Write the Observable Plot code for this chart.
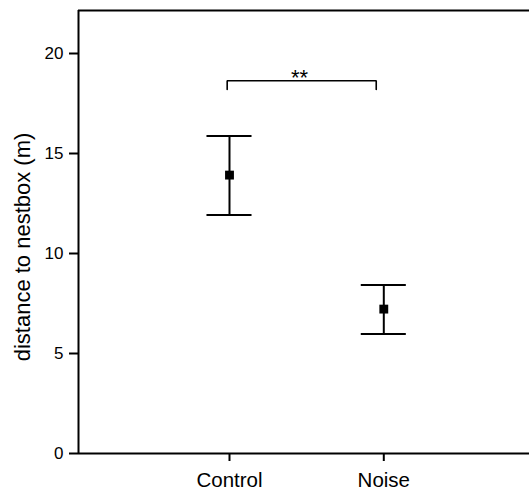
<!DOCTYPE html>
<html>
<head>
<meta charset="utf-8">
<script src="https://cdn.jsdelivr.net/npm/d3@7"></script>
<script src="https://cdn.jsdelivr.net/npm/@observablehq/plot@0.6"></script>
<style>
  html, body { margin: 0; padding: 0; background: #fff; overflow: hidden; width: 530px; height: 491px; }
  #chart svg { display: block; }
</style>
</head>
<body>
<div id="chart"></div>
<script>
// ---- data ----
const categories = ["Control", "Noise"];
const categoryPos = [1, 2];
const means = [13.92, 7.22];
const upper = [15.87, 8.42];
const lower = [11.92, 5.97];
const yTicks = [0, 5, 10, 15, 20];
const yLabel = "distance to nestbox (m)";
// significance bracket
const bracketX = [0.985, 0.985, 1.951, 1.951];
const bracketY = [18.2, 18.635, 18.635, 18.2];
const sigLabel = "**";
const sigX = 1.4537;
const sigY = 18.43;

// ---- scale settings ----
const xDomain = [0.0214, 2.9443];
const yDomain = [0, 22.15];
const capHalf = 0.146; // half width of error-bar caps, in x units

const rows = categories.map((c, i) => ({
  cat: c, x: categoryPos[i], mean: means[i], hi: upper[i], lo: lower[i]
}));
const bracket = bracketX.map((x, i) => ({x, y: bracketY[i]}));

const font = "'Liberation Sans', Arial, Helvetica, sans-serif";

const chart = Plot.plot({
  width: 530,
  height: 491,
  marginLeft: 78,
  marginRight: 1,
  marginTop: 10,
  marginBottom: 38,
  style: {fontFamily: font, color: "#000", background: "#fff"},
  x: {domain: xDomain, axis: null},
  y: {domain: yDomain, axis: null},
  marks: [
    // axis lines and top border
    Plot.ruleX([xDomain[0]], {stroke: "#000", strokeWidth: 2}),
    Plot.ruleY([yDomain[0]], {stroke: "#000", strokeWidth: 2}),
    Plot.ruleY([yDomain[1]], {stroke: "#000", strokeWidth: 2}),
    Plot.axisY({
      ticks: yTicks, tickSize: 9, tickPadding: 6, fontSize: 17,
      label: null, strokeWidth: 2
    }),
    Plot.axisX({
      ticks: categoryPos, tickFormat: d => categories[d - 1],
      tickSize: 8, tickPadding: 11, fontSize: 20.5,
      label: null, strokeWidth: 2
    }),
    Plot.text([yLabel], {
      text: d => d, frameAnchor: "left", rotate: -90,
      dx: -56, dy: 15, fontSize: 22, textAnchor: "middle", lineAnchor: "middle",
      fill: "#000"
    }),
    // error bars
    Plot.ruleX(rows, {x: "x", y1: "lo", y2: "hi", stroke: "#000", strokeWidth: 2}),
    Plot.ruleY(rows, {y: "hi", x1: d => d.x - capHalf, x2: d => d.x + capHalf, stroke: "#000", strokeWidth: 2}),
    Plot.ruleY(rows, {y: "lo", x1: d => d.x - capHalf, x2: d => d.x + capHalf, stroke: "#000", strokeWidth: 2}),
    Plot.dot(rows, {x: "x", y: "mean", symbol: "square", r: 5, fill: "#000", stroke: null}),
    // significance bracket
    Plot.line(bracket, {x: "x", y: "y", stroke: "#000", strokeWidth: 1.6, strokeLinejoin: "miter", curve: "linear"}),
    Plot.text([sigLabel], {x: () => sigX, y: () => sigY, text: d => d, fontSize: 22, lineAnchor: "bottom", fill: "#000"})
  ]
});
document.getElementById("chart").appendChild(chart);
</script>
</body>
</html>
